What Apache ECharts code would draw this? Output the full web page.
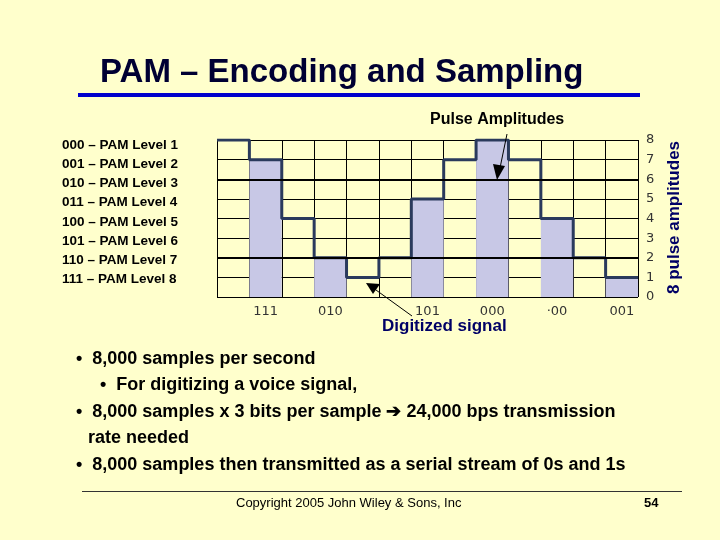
<!DOCTYPE html>
<html>
<head>
<meta charset="utf-8">
<script src="https://cdn.jsdelivr.net/npm/echarts@6/dist/echarts.min.js"></script>
<style>html,body{margin:0;background:#ffffcc}#c{width:720px;height:540px}</style>
</head>
<body>
<div id="c"></div>
<script>
// step levels per column (13 columns)
const levels = [8, 7, 4, 2, 1, 2, 5, 7, 8, 7, 4, 2, 1]
// sampled pulses: column index, height, code
const pulseCols = [1, 3, 6, 8, 10, 12]
const pulseVals = [7, 2, 5, 8, 4, 1]
const pulseCodes = ['111', '010', '101', '000', '·00', '001']
const legendLines = ['000 – PAM Level 1', '001 – PAM Level 2', '010 – PAM Level 3', '011 – PAM Level 4',
  '100 – PAM Level 5', '101 – PAM Level 6', '110 – PAM Level 7', '111 – PAM Level 8']

const stepData = levels.map((v, i) => [i, v])
stepData.push([levels.length, levels[levels.length - 1]])

const chart = echarts.init(document.getElementById('c'))
const txt = (x, y, t, s, extra) => ({ type: 'text', z: 100, left: x, top: y, style: Object.assign({ text: t, font: 'bold ' + s + 'px Arial, Liberation Sans', fill: '#000' }, extra || {}) })

const graphics = [
  txt(100, 56, 'PAM – Encoding and Sampling', 33, { fill: '#000033' }),
  { type: 'rect', z: 100, shape: { x: 78, y: 93, width: 562, height: 4 }, style: { fill: '#0000cc' } },
  txt(430, 112, 'Pulse Amplitudes', 16),
  txt(382, 318, 'Digitized signal', 17, { fill: '#000066' }),
  { type: 'text', z: 100, x: 666, y: 294, rotation: Math.PI / 2, style: { text: '8 pulse amplitudes', font: 'bold 17px Arial, Liberation Sans', fill: '#000066' } },
  txt(76, 350, '•  8,000 samples per second', 18),
  txt(100, 376, '•  For digitizing a voice signal,', 18),
  txt(76, 403, '•  8,000 samples x 3 bits per sample ➔ 24,000 bps transmission', 18),
  txt(88, 429, 'rate needed', 18),
  txt(76, 456, '•  8,000 samples then transmitted as a serial stream of 0s and 1s', 18),
  { type: 'rect', z: 100, shape: { x: 82, y: 491, width: 600, height: 1 }, style: { fill: '#333' } },
  { type: 'text', z: 100, left: 236, top: 497, style: { text: 'Copyright 2005 John Wiley & Sons, Inc', font: '13px Arial, Liberation Sans', fill: '#000' } },
  txt(644, 497, '54', 13),
  // arrows
  { type: 'line', z: 100, shape: { x1: 507, y1: 134, x2: 500, y2: 168 }, style: { stroke: '#000', lineWidth: 1 } },
  { type: 'polygon', z: 100, shape: { points: [[493, 164], [505, 166], [497, 180]] }, style: { fill: '#000' } },
  { type: 'line', z: 100, shape: { x1: 412, y1: 316, x2: 376, y2: 290 }, style: { stroke: '#000', lineWidth: 1 } },
  { type: 'polygon', z: 100, shape: { points: [[366, 283], [380, 284], [373, 294]] }, style: { fill: '#000' } }
]
legendLines.forEach((l, i) => graphics.push(txt(62, 138 + i * 19.2, l, 13.5)))

chart.setOption({
  backgroundColor: '#ffffcc',
  animation: false,
  graphic: graphics,
  grid: { left: 217, right: 82, top: 140, bottom: 243 },
  xAxis: {
    type: 'value', min: 0, max: 13, interval: 1,
    axisLine: { show: false }, axisTick: { show: false }, axisLabel: { show: false },
    splitLine: { lineStyle: { color: '#000', width: 1 } }
  },
  yAxis: {
    type: 'value', position: 'right', min: 0, max: 8, interval: 1,
    axisLine: { show: false }, axisTick: { show: false },
    axisLabel: { color: '#333', fontSize: 13, margin: 8, fontFamily: 'DejaVu Sans' },
    splitLine: { lineStyle: { color: '#000', width: 1 } }
  },
  series: [
    {
      type: 'custom',
      data: pulseCols.map((c, i) => [c, pulseVals[i]]),
      renderItem: (params, api) => {
        const p0 = api.coord([api.value(0), 0])
        const p1 = api.coord([api.value(0) + 1, api.value(1)])
        return {
          type: 'group', children: [
            { type: 'rect', shape: { x: p0[0], y: p1[1], width: p1[0] - p0[0], height: p0[1] - p1[1] }, style: { fill: '#c8c8e6' } },
            { type: 'text', style: { text: pulseCodes[params.dataIndex], x: (p0[0] + p1[0]) / 2, y: p0[1] + 8, align: 'center', font: '13px DejaVu Sans', fill: '#333' } }
          ]
        }
      },
      z: 1
    },
    {
      type: 'line', step: 'end', data: stepData, symbol: 'none',
      lineStyle: { color: '#2a3a5c', width: 3 }, z: 3,
      markLine: {
        silent: true, symbol: 'none', label: { show: false },
        lineStyle: { color: '#000', width: 2, type: 'solid' },
        data: [{ yAxis: 2 }, { yAxis: 6 }]
      }
    }
  ]
})
</script>
</body>
</html>
